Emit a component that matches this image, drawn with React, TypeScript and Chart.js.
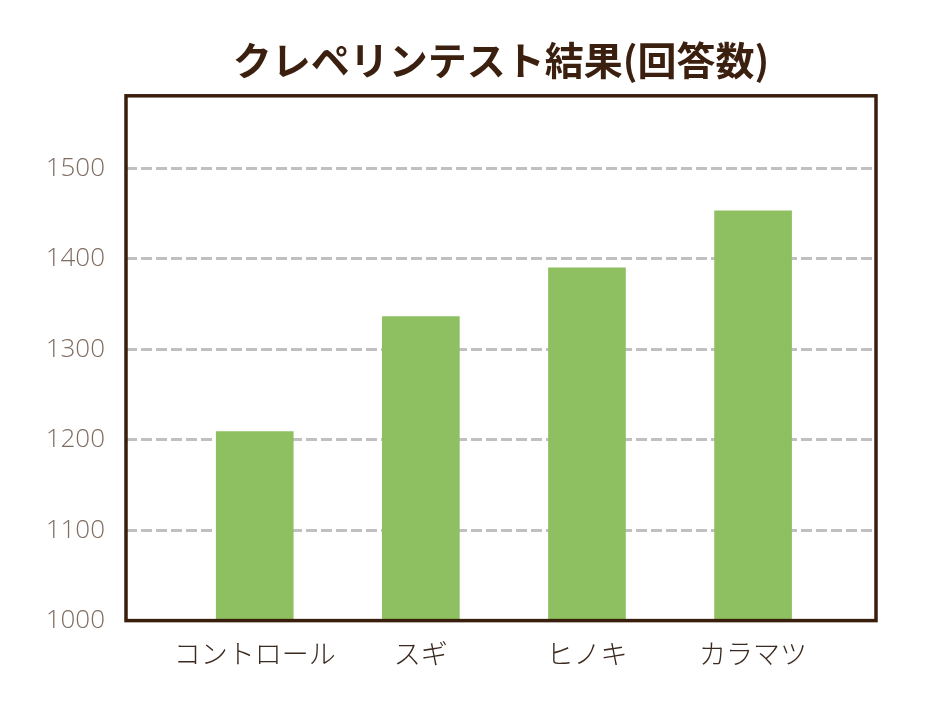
import React, { useEffect, useRef } from 'react';
import { Chart, registerables } from 'chart.js';

Chart.register(...registerables);

const categories = ['コントロール', 'スギ', 'ヒノキ', 'カラマツ'];
const answers = [1209, 1336, 1390, 1453];
const yTicks = [1000, 1100, 1200, 1300, 1400, 1500];

// box around the plot area, drawn over the bars
const frame = {
  id: 'frame',
  afterDatasetsDraw(chart: Chart) {
    const { ctx, chartArea } = chart;
    ctx.save();
    ctx.strokeStyle = '#3a1e0c';
    ctx.lineWidth = 3.5;
    ctx.strokeRect(chartArea.left, chartArea.top, chartArea.right - chartArea.left, chartArea.bottom - chartArea.top);
    ctx.restore();
  },
};

const App = () => {
  const canvasRef = useRef<HTMLCanvasElement | null>(null);

  useEffect(() => {
    if (!canvasRef.current) return;
    const chart = new Chart(canvasRef.current, {
      type: 'bar',
      data: {
        datasets: [
          {
            data: categories.map((_, i) => ({ x: i, y: answers[i] })),
            backgroundColor: '#8ebf60',
            barThickness: 77,
          },
        ],
      },
      options: {
        animation: false,
        responsive: true,
        maintainAspectRatio: false,
        layout: { padding: { left: 38, right: 56, top: 0, bottom: 29 } },
        plugins: {
          legend: { display: false },
          tooltip: { enabled: false },
          title: {
            display: true,
            text: 'クレペリンテスト結果(回答数)',
            fullSize: false,
            color: '#3b1f0f',
            font: { family: '"Noto Sans CJK JP"', size: 39, weight: 'bold' },
            padding: { top: 29, bottom: 12 },
          },
        },
        scales: {
          x: {
            type: 'linear',
            offset: false,
            min: -0.775,
            max: 3.74,
            afterBuildTicks: (s: any) => {
              s.ticks = categories.map((_, i) => ({ value: i }));
            },
            grid: { display: false, drawTicks: false },
            border: { display: false },
            ticks: {
              autoSkip: false,
              maxRotation: 0,
              padding: 17,
              color: '#3b2a1f',
              font: { family: '"Noto Sans CJK JP"', size: 27, weight: 300 },
              callback: (v: any) => categories[v] ?? '',
            },
          },
          y: {
            min: 1000,
            max: 1580,
            afterBuildTicks: (s: any) => {
              s.ticks = yTicks.map((v) => ({ value: v }));
            },
            afterFit: (s: any) => {
              s.width = 80;
            },
            grid: { color: '#c0c0c0', lineWidth: 3, drawTicks: false },
            border: { display: false, dash: [11, 4] },
            ticks: {
              padding: 21,
              color: '#7f6d62',
              font: { family: '"Open Sans"', size: 26, weight: 300 },
              callback: (v: any) => String(v),
            },
          },
        },
      },
      plugins: [frame],
    });
    return () => chart.destroy();
  }, []);

  return (
    <div style={{ position: 'relative', width: '924px', height: '708px' }}>
      <canvas ref={canvasRef}></canvas>
    </div>
  );
};

export default App;
